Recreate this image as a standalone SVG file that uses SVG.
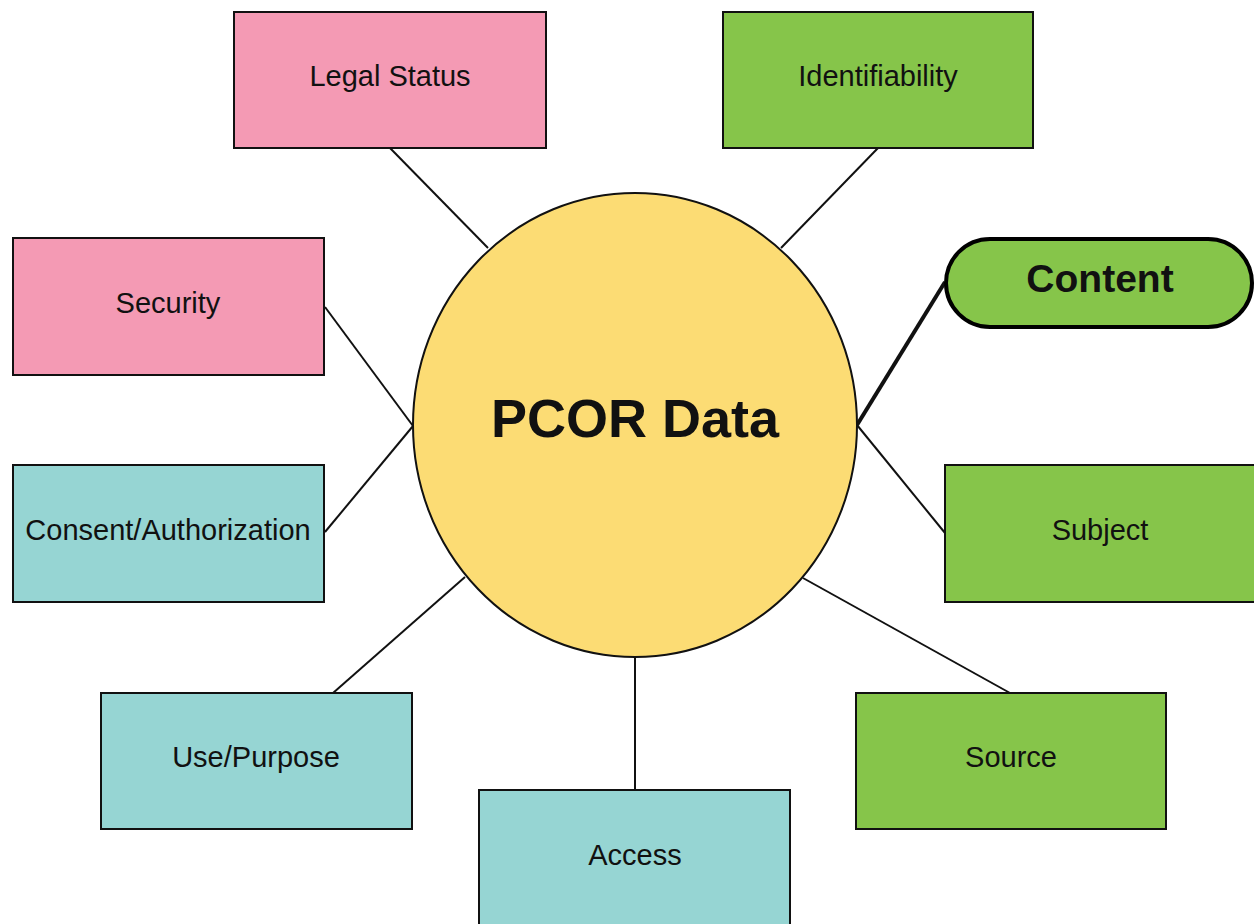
<svg xmlns="http://www.w3.org/2000/svg" width="1254" height="924" viewBox="0 0 1254 924">
<style>
.box{stroke:#111;stroke-width:2}
.pink{fill:#F49AB4}
.green{fill:#86C54A}
.teal{fill:#96D5D3}
.lbl{font-family:"Liberation Sans",Arial,sans-serif;font-size:29px;fill:#111;text-anchor:middle;dominant-baseline:central}
.conn line{stroke:#111;stroke-width:2}
</style>
<rect width="1254" height="924" fill="#fff"/>
<g id="connectors" class="conn">
<line x1="390" y1="148" x2="488" y2="248"/>
<line x1="878" y1="148" x2="781" y2="248"/>
<line x1="325" y1="307" x2="413" y2="426"/>
<line x1="325" y1="532" x2="413" y2="426"/>
<line x1="857" y1="425" x2="945" y2="282" style="stroke-width:4"/>
<line x1="857" y1="425" x2="945" y2="533"/>
<line x1="333" y1="693" x2="465" y2="577"/>
<line x1="635" y1="657" x2="635" y2="790"/>
<line x1="803" y1="578" x2="1010" y2="693"/>
</g>
<g id="pcor">
<ellipse cx="635" cy="425" rx="222" ry="232" fill="#FCDC74" stroke="#111" stroke-width="2"/>
<text x="635" y="418" class="lbl" style="font-size:54px;font-weight:bold">PCOR Data</text>
</g>
<g id="legal"><rect x="234" y="12" width="312" height="136" class="box pink"/><text x="390" y="76" class="lbl">Legal Status</text></g>
<g id="ident"><rect x="723" y="12" width="310" height="136" class="box green"/><text x="878" y="76" class="lbl">Identifiability</text></g>
<g id="security"><rect x="13" y="238" width="311" height="137" class="box pink"/><text x="168" y="303" class="lbl">Security</text></g>
<g id="content"><rect x="946" y="239" width="306" height="88" rx="44" ry="44" fill="#86C54A" stroke="#000" stroke-width="4"/><text x="1100" y="278" class="lbl" style="font-size:39px;font-weight:bold">Content</text></g>
<g id="consent"><rect x="13" y="465" width="311" height="137" class="box teal"/><text x="168" y="530" class="lbl">Consent/Authorization</text></g>
<g id="subject"><rect x="945" y="465" width="311" height="137" class="box green"/><text x="1100" y="530" class="lbl">Subject</text></g>
<g id="use"><rect x="101" y="693" width="311" height="136" class="box teal"/><text x="256" y="757" class="lbl">Use/Purpose</text></g>
<g id="access"><rect x="479" y="790" width="311" height="140" class="box teal"/><text x="635" y="855" class="lbl">Access</text></g>
<g id="source"><rect x="856" y="693" width="310" height="136" class="box green"/><text x="1011" y="757" class="lbl">Source</text></g>
</svg>
